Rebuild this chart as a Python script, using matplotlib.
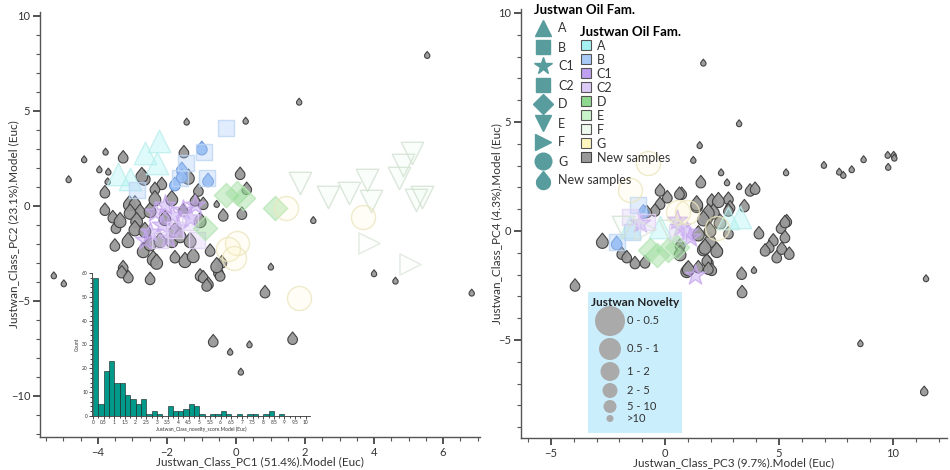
import numpy as np
import matplotlib
matplotlib.use("Agg")
import matplotlib.pyplot as plt
from matplotlib.path import Path
from matplotlib.lines import Line2D
from matplotlib.patches import Patch
from matplotlib.colors import to_rgba
from matplotlib.ticker import MultipleLocator

plt.rcParams['font.family'] = ['Lato', 'DejaVu Sans']

# ---------------- data: left panel (PC1 vs PC2) ----------------
left_new_x = [-4.40, -3.78, -3.96, -3.70, -3.72, -4.85, -0.56, 2.24, 1.01, -5.28, -4.99, 1.83, -1.43,
              0.28, 5.54, 4.00, 4.62, 6.83, -0.17, 0.39, 0.14,
              -3.27, -1.51, -3.80, -3.80, -3.57, -3.48, -2.15, -2.35, -1.53, -1.09, -1.19, -0.95, -0.37,
              0.12, 0.17, 0.31, -1.77, -3.27, -3.31, -3.12, -2.49, -1.04, -0.95, -0.80, -0.41, -0.51,
              -0.46, 0.84, -0.85, -0.66, 1.64, -3.51, -0.75,
              -2.66, -2.73, -3.09, -2.93, -2.78, -3.07, -2.88, -2.93, -2.49, -2.35, -1.86, -1.38, -2.69,
              -2.49, -2.20, -1.86, -2.40, -2.30, -1.48, -1.24, -1.77, -1.62, -0.56, -3.36, -3.13, -2.06,
              -1.04, -1.33, -2.64]
left_new_y = [2.46, 2.86, 1.93, 1.81, 1.30, 1.41, 0.11, -0.74, -3.19, -3.65, -4.07, 5.49, 4.44,
              4.49, 7.95, -3.54, -3.93, -4.56, -7.67, -7.28, -8.72,
              2.59, 2.86, 0.75, -0.17, -0.56, -1.12, 1.19, 0.93, -0.21, 0.84, 0.32, 0.14, -0.47,
              1.72, -0.38, 0.93, -2.67, -3.19, -3.46, -3.72, -3.81, -3.63, -3.72, -4.07, -2.93, -3.46,
              -3.63, -4.51, -4.16, -7.09, -6.96, -2.05, -2.32,
              1.49, 1.63, 0.14, 0.14, -0.30, -0.30, -0.74, -1.17, -0.21, 0.41, 0.41, 1.54, -2.32,
              -1.96, -1.79, -1.79, -2.75, -2.93, -2.84, -2.58, -1.26, -1.53, -3.11, -0.74, -1.79, -0.63,
              -0.74, -1.79, -1.26]
left_new_nov = [12] * 21 + [1.5] * 33 + [0.3] * 29

left_bdrop_x = [-0.99, -1.57, -0.81, -1.77, -1.57]
left_bdrop_y = [3.05, 1.95, 1.37, 1.16, 1.58]

left_fam = {
    "A": ([-2.23, -2.64, -2.29, -3.42, -3.07], [3.42, 2.79, 2.26, 1.68, 1.42]),
    "B": ([-0.29, -0.93, -1.45, -0.84, -1.62, -2.87], [4.11, 2.84, 2.26, 1.47, 1.47, 0.84]),
    "C1": ([-2.35, -2.06, -1.86, -1.54, -1.33, -2.14, -2.49, -2.64, -1.68, -1.19, -1.97],
           [-0.32, 0.05, -0.47, -0.21, -0.63, -1.00, -1.37, -1.79, -1.16, 0.05, -1.68]),
    "C2": ([-1.77, -1.33, -1.14, -2.20], [-1.26, -0.84, -1.79, -1.79]),
    "D": ([-0.29, 0.03, 0.20, 1.13, -0.90], [0.58, 0.68, 0.42, -0.11, -1.16]),
    "E": ([1.86, 2.67, 3.28, 3.80, 3.91, 4.72, 4.84, 5.10, 5.22, 5.39],
          [1.21, 0.47, 0.68, 1.37, 0.26, 1.47, 2.16, 2.79, 0.32, 0.47]),
    "F": ([3.86, 5.04], [-1.95, -3.05]),
    "G": ([0.03, -0.23, -0.06, 1.45, 3.68, 1.83], [-1.95, -2.26, -2.74, -0.11, -0.58, -4.84]),
}

# ---------------- data: right panel (PC3 vs PC4) ----------------
right_new_x = [1.68, 3.25, 1.52, 1.24, 2.46, 2.72, 3.25, 5.31, 6.97, 7.64, 7.82, 8.19, 8.71, 9.77,
               10.03, 10.06, 9.79, 3.90, 11.45, 8.57, 11.37,
               1.57, 3.73, 3.95, 3.48, 4.12, 5.34, 5.09, 4.75, 4.57, 4.90, 5.12, 5.45, 4.39, 3.36,
               3.38, 2.31, 1.90, 2.05, 1.46, 2.78, 2.05, 2.85, 2.78, 0.73, 0.66, -0.22, 0.10, 0.63,
               -0.22, -0.44, -0.80, 1.83, 1.90, -1.90, -1.68, -1.32, 5.26, 5.26, 2.78, -0.88, -3.95,
               0.95, 2.34, 1.39, 1.83, 2.12, 1.97, 1.68, 1.39, 1.90, 1.68, 2.41, 1.97, 1.46, 2.27,
               1.75, 0.66, 1.02, -2.75]
right_new_y = [7.72, 4.94, 3.94, 3.26, 2.69, 2.23, 2.05, 2.69, 3.03, 2.72, 2.57, 2.83, 3.29, 3.49,
               3.49, 3.36, 2.94, -1.79, -2.17, -5.15, -7.34,
               2.26, 1.88, 1.96, 1.16, -0.08, 0.47, 0.17, -0.41, -0.72, -1.18, -0.79, -1.02, -0.87, -1.94,
               -2.78, -0.87, -1.41, -1.76, -1.64, 1.50, 1.42, 1.11, -0.08, 1.73, -0.64, 1.88, 1.57, 1.73,
               1.27, 0.96, 0.89, -1.33, -1.71, -1.02, -1.18, -1.45, -0.26, 0.43, 0.96, -1.42, -2.48,
               -1.79, 1.42, 1.19, 0.66, 0.89, -0.41, -0.79, 1.27, 0.89, 0.58, 0.43, 0.05, -0.11, -0.87,
               -0.72, -1.02, -1.71, -0.45]
right_new_nov = [12] * 20 + [6] + [1.5] * 41 + [0.3] * 18

right_bdrop_x = [-2.12, -0.95]
right_bdrop_y = [-0.55, 0.89]

right_fam = {
    "A": ([2.78, 3.29, -0.22, -1.54], [0.58, 0.66, 0.20, 0.20]),
    "B": ([-1.17, -2.12, -1.46], [1.19, -0.49, -0.03]),
    "C1": ([0.66, 0.95, 0.51, -1.10, 1.32, 1.10], [0.20, -0.03, 0.50, 0.35, -2.02, -0.26]),
    "C2": ([-1.54, -0.80, 0.51], [0.66, 0.43, -0.11]),
    "D": ([-0.36, 0.15, -0.66, 0.51], [-1.10, -0.87, -0.87, -0.72]),
    "E": ([-1.83, 0.20], [0.20, 0.00]),
    "F": ([-0.90], [0.10]),
    "G": ([0.95, 0.58, 2.27, -1.54, -0.73], [0.89, 0.89, 0.12, 1.88, 3.11]),
}

# novelty histogram (bin width 0.25, 0..10)
hist_counts = [58, 5, 19, 23, 14, 14, 9, 7, 5, 7, 1, 2, 1, 0, 4, 2, 2, 3, 5, 4,
               1, 0, 1, 1, 2, 1, 0, 1, 0, 1, 1, 0, 1, 2, 0, 1, 0, 0, 0, 0]

families = ["A", "B", "C1", "C2", "D", "E", "F", "G"]
fam_colors = {"A": "#a6f2f2", "B": "#a9c9f7", "C1": "#bf9ff0", "C2": "#dccaf7",
              "D": "#8fd88f", "E": "#c9f4c9", "F": "#eefaee", "G": "#fff6bd"}
fam_edges = {"A": "#bdeeee", "B": "#bcd6f5", "C1": "#c7a8f0", "C2": "#e2d4f5",
             "D": "#b6e6b6", "E": "#d2e2d2", "F": "#dbe6db", "G": "#ece6bf"}
fam_fill_alpha = {"A": 0.35, "B": 0.35, "C1": 0.45, "C2": 0.35, "D": 0.4,
                  "E": 0.08, "F": 0.08, "G": 0.15}
fam_markers = {"A": "^", "B": "s", "C1": "*", "C2": "s", "D": "D", "E": "v", "F": ">", "G": "o"}
fam_sizes = {"A": 260, "B": 140, "C1": 230, "C2": 140, "D": 150, "E": 260, "F": 230, "G": 300}
legend_marker_sizes = {"A": 12, "B": 10, "C1": 13, "C2": 10, "D": 10, "E": 12, "F": 12, "G": 12}

nov_labels = ["0 - 0.5", "0.5 - 1", "1 - 2", "2 - 5", "5 - 10", ">10"]
nov_bins = [0.5, 1, 2, 5, 10]
nov_plot_sizes = [11, 10, 9, 8, 7, 5]          # drop size in points
nov_legend_px = [30, 22, 19, 15, 13, 7]        # legend circle diameters (px)

TEAL = "#589c9e"
DROP_FACE = "#999999"
DROP_EDGE = "#3c3c3c"
TXT = "#333333"


def drop_path():
    ang = np.radians(np.linspace(141.3, 398.7, 60))
    verts = [(0.0, 1.3)] + [(np.cos(a), np.sin(a) - 0.3) for a in ang] + [(0.0, 1.3)]
    codes = [Path.MOVETO] + [Path.LINETO] * (len(verts) - 2) + [Path.CLOSEPOLY]
    return Path(verts, codes)


DROP = drop_path()


def drop_sizes(nov):
    idx = np.searchsorted(nov_bins, nov)
    return [nov_plot_sizes[i] ** 2 for i in idx]


def style_axes(ax):
    for s in ["top", "right"]:
        ax.spines[s].set_visible(False)
    for s in ["left", "bottom"]:
        ax.spines[s].set_color("#555555")
        ax.spines[s].set_linewidth(1.0)
    ax.tick_params(which="major", length=5, width=1.2, color="#333333", labelsize=8,
                   labelcolor=TXT, pad=2)
    ax.tick_params(which="minor", length=3, width=0.8, color="#555555")
    ax.set_facecolor("none")


def draw_panel(ax, new_x, new_y, nov, bx, by, fam):
    ax.scatter(new_x, new_y, s=drop_sizes(nov), marker=DROP, facecolor=DROP_FACE,
               edgecolor=DROP_EDGE, linewidth=0.8, alpha=0.95, zorder=2)
    ax.scatter(bx, by, s=[10 ** 2] * len(bx), marker=DROP, facecolor="#8fb8f4",
               edgecolor="#5a88d0", linewidth=0.7, alpha=0.9, zorder=3)
    for f in families:
        xs, ys = fam[f]
        ax.scatter(xs, ys, s=fam_sizes[f], marker=fam_markers[f],
                   facecolor=to_rgba(fam_colors[f], fam_fill_alpha[f]),
                   edgecolor=to_rgba(fam_edges[f], 0.8), linewidth=1.0, zorder=4)


fig = plt.figure(figsize=(9.5, 4.7), dpi=100)

# left panel
axL = fig.add_axes([40 / 950, 33 / 470, 440 / 950, 425 / 470])
draw_panel(axL, left_new_x, left_new_y, left_new_nov, left_bdrop_x, left_bdrop_y, left_fam)
axL.set_xlim(-5.68, 7.07)
axL.set_ylim(-12.16, 10.21)
axL.xaxis.set_major_locator(MultipleLocator(2))
axL.xaxis.set_minor_locator(MultipleLocator(0.5))
axL.yaxis.set_major_locator(MultipleLocator(5))
axL.yaxis.set_minor_locator(MultipleLocator(1))
style_axes(axL)
axL.set_xlabel("Justwan_Class_PC1 (51.4%).Model (Euc)", fontsize=8.5, color=TXT)
axL.set_ylabel("Justwan_Class_PC2 (23.1%).Model (Euc)", fontsize=8.5, color=TXT)
axL.xaxis.set_label_coords(0.5, -19 / 425)
axL.yaxis.set_label_coords(-21 / 440, 0.5)

# histogram inset
axH = fig.add_axes([92 / 950, 54 / 470, 218 / 950, 143 / 470])
edges = np.arange(len(hist_counts)) * 0.25
axH.bar(edges, hist_counts, width=0.25, align="edge", color="#00998a", edgecolor="#1a1a1a",
        linewidth=0.4)
axH.set_xlim(-0.05, 10.2)
axH.set_ylim(0, 60)
axH.set_facecolor("none")
for s in ["top", "right"]:
    axH.spines[s].set_visible(False)
for s in ["left", "bottom"]:
    axH.spines[s].set_linewidth(0.6)
    axH.spines[s].set_color("#333333")
axH.xaxis.set_minor_locator(MultipleLocator(0.25))
axH.yaxis.set_major_locator(MultipleLocator(10))
axH.yaxis.set_minor_locator(MultipleLocator(2))
xt = np.arange(0, 10.01, 0.5)
axH.set_xticks(xt)
axH.set_xticklabels(["%g" % v for v in xt])
axH.tick_params(which="both", labelsize=3.5, length=2, width=0.5, pad=1, labelcolor=TXT)
axH.tick_params(which="minor", length=1.2)
axH.set_xlabel("Justwan_Class_novelty_score.Model (Euc)", fontsize=3.5, labelpad=1, color=TXT)
axH.set_ylabel("Count", fontsize=3.5, labelpad=2, color=TXT)

# right panel
axR = fig.add_axes([521 / 950, 32 / 470, 426 / 950, 429 / 470])
draw_panel(axR, right_new_x, right_new_y, right_new_nov, right_bdrop_x, right_bdrop_y, right_fam)
axR.set_xlim(-6.32, 12.37)
axR.set_ylim(-9.5, 10.18)
axR.xaxis.set_major_locator(MultipleLocator(5))
axR.xaxis.set_minor_locator(MultipleLocator(1))
axR.yaxis.set_major_locator(MultipleLocator(5))
axR.yaxis.set_minor_locator(MultipleLocator(1))
style_axes(axR)
axR.set_xlabel("Justwan_Class_PC3 (9.7%).Model (Euc)", fontsize=8.5, color=TXT)
axR.set_ylabel("Justwan_Class_PC4 (4.3%).Model (Euc)", fontsize=8.5, color=TXT)
axR.xaxis.set_label_coords(0.5, -19 / 429)
axR.yaxis.set_label_coords(-19 / 426, 0.5)

# legend 1: shapes
shape_handles = [Line2D([], [], marker=fam_markers[f], linestyle="none", color=TEAL,
                        markersize=legend_marker_sizes[f]) for f in families]
shape_handles.append(Line2D([], [], marker=DROP, linestyle="none", color=TEAL, markersize=13))
leg1 = fig.legend(shape_handles, families + ["New samples"], loc="upper left",
                  bbox_to_anchor=(532 / 950, 1 - 1 / 470), frameon=False, fontsize=9,
                  title="Justwan Oil Fam.", title_fontproperties={"weight": "bold", "size": 9.5},
                  alignment="left", labelspacing=0.56, handlelength=1.3, handletextpad=0.6,
                  borderpad=0.2, borderaxespad=0)
for t in leg1.get_texts():
    t.set_color(TXT)

# legend 2: colours
color_handles = [Patch(facecolor=fam_colors[f], edgecolor="#555555", linewidth=0.8) for f in families]
color_handles.append(Patch(facecolor=DROP_FACE, edgecolor="#444444", linewidth=0.8))
leg2 = fig.legend(color_handles, families + ["New samples"], loc="upper left",
                  bbox_to_anchor=(578 / 950, 1 - 23 / 470), frameon=False, fontsize=9,
                  title="Justwan Oil Fam.", title_fontproperties={"weight": "bold", "size": 9.5},
                  alignment="left", labelspacing=0.16, handlelength=0.8, handleheight=0.8,
                  handletextpad=0.5, borderpad=0.2, borderaxespad=0)
for t in leg2.get_texts():
    t.set_color(TXT)

# legend 3: novelty size key
axN = fig.add_axes([588 / 950, 37 / 470, 94 / 950, 141 / 470])
axN.set_facecolor("#cbeefc")
axN.set_xlim(0, 94)
axN.set_ylim(141, 0)
axN.set_xticks([])
axN.set_yticks([])
for s in axN.spines.values():
    s.set_visible(False)
axN.text(47, 10, "Justwan Novelty", ha="center", va="center", fontsize=8.5, fontweight="bold",
         color="#222222")
d = np.array(nov_legend_px, dtype=float)
centers = 14 + np.cumsum(d + 2) - d / 2 - 2
axN.scatter([22] * len(d), centers, s=(d * 0.72) ** 2, color="#aaaaaa", linewidth=0)
for c, lab in zip(centers, nov_labels):
    axN.text(39, c, lab, ha="left", va="center", fontsize=8, color=TXT)

fig.savefig("out.png", dpi=100)
